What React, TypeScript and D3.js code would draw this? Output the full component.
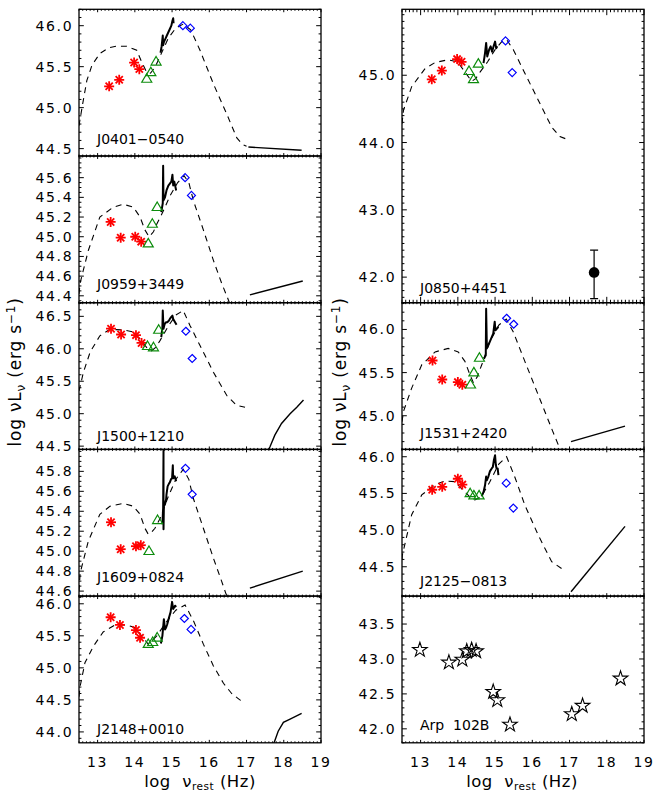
import React from "react";
import * as d3 from "d3";

type P = [number, number];

const X_DOMAIN: [number, number] = [12.5, 19];
const X_TICKS = [13, 14, 15, 16, 17, 18, 19];

// ---- J0401-0540 ----
const j0401Ir: P[] = [[13.31, 45.26], [13.58, 45.34], [13.98, 45.55], [14.12, 45.47]];
const j0401Nir: P[] = [[14.32, 45.35], [14.43, 45.43], [14.57, 45.56]];
const j0401Uv: P[] = [[15.29, 46.0], [15.49, 45.97]];
const j0401Spec: P[] = [[14.69, 45.67], [14.72, 45.75], [14.75, 45.88], [14.76, 45.76], [14.78, 45.8], [14.82, 45.84], [14.86, 45.88], [14.9, 45.92], [14.94, 45.96], [14.98, 46.0], [15.01, 46.06], [15.03, 46.09], [15.04, 46.03]];
const j0401Model: P[] = [[12.5, 44.78], [12.6, 45.05], [12.71, 45.33], [12.85, 45.52], [13.06, 45.66], [13.3, 45.73], [13.51, 45.75], [13.78, 45.75], [14.05, 45.7], [14.18, 45.56], [14.32, 45.43], [14.42, 45.42], [14.55, 45.5], [14.7, 45.65], [14.9, 45.85], [15.1, 45.97], [15.3, 46.02], [15.5, 45.95], [15.75, 45.7], [16.11, 45.29], [16.47, 44.92], [16.74, 44.63], [16.9, 44.55], [17.0, 44.53]];
const j0401Xray: P[] = [[17.05, 44.52], [18.48, 44.48]];

// ---- J0959+3449 ----
const j0959Ir: P[] = [[13.35, 45.15], [13.62, 44.99], [14.01, 45.0], [14.17, 44.95]];
const j0959Nir: P[] = [[14.36, 44.93], [14.47, 45.13], [14.6, 45.3]];
const j0959Uv: P[] = [[15.35, 45.6], [15.52, 45.42]];
const j0959Spec: P[] = [[14.71, 45.25], [14.75, 45.34], [14.76, 45.72], [14.77, 45.37], [14.81, 45.4], [14.85, 45.47], [14.9, 45.52], [14.94, 45.54], [14.98, 45.56], [15.01, 45.63], [15.03, 45.52], [15.06, 45.56], [15.11, 45.47]];
const j0959Model: P[] = [[12.5, 44.42], [12.53, 44.53], [12.75, 44.86], [13.06, 45.2], [13.42, 45.3], [13.69, 45.33], [13.96, 45.3], [14.14, 45.2], [14.27, 45.07], [14.38, 45.0], [14.5, 45.05], [14.59, 45.13], [14.75, 45.25], [14.95, 45.42], [15.15, 45.55], [15.32, 45.62], [15.45, 45.55], [15.57, 45.37], [15.84, 45.07], [16.11, 44.76], [16.33, 44.53], [16.51, 44.36], [16.6, 44.27]];
const j0959Xray: P[] = [[17.09, 44.41], [18.51, 44.55]];

// ---- J1500+1210 ----
const j1500Ir: P[] = [[13.36, 46.31], [13.63, 46.22], [14.03, 46.21], [14.18, 46.09]];
const j1500Nir: P[] = [[14.34, 46.04], [14.5, 46.02], [14.64, 46.29]];
const j1500Uv: P[] = [[15.37, 46.27], [15.54, 45.85]];
const j1500Spec: P[] = [[14.71, 46.18], [14.74, 46.33], [14.75, 46.59], [14.77, 46.31], [14.8, 46.38], [14.84, 46.41], [14.87, 46.41], [14.91, 46.43], [14.94, 46.46], [14.98, 46.49], [15.01, 46.51], [15.03, 46.46], [15.08, 46.41], [15.12, 46.37]];
const j1500Model: P[] = [[12.5, 45.35], [12.62, 45.64], [12.8, 45.95], [13.06, 46.2], [13.33, 46.3], [13.69, 46.29], [13.96, 46.26], [14.14, 46.15], [14.32, 46.02], [14.45, 45.97], [14.56, 46.02], [14.68, 46.13], [14.9, 46.35], [15.1, 46.52], [15.3, 46.59], [15.48, 46.36], [15.75, 46.05], [16.11, 45.64], [16.47, 45.28], [16.73, 45.13], [16.96, 45.1]];
const j1500Xray: P[] = [[17.55, 44.4], [17.63, 44.49], [17.76, 44.67], [17.94, 44.85], [18.17, 45.0], [18.35, 45.1], [18.53, 45.21]];

// ---- J1609+0824 ----
const j1609Ir: P[] = [[13.36, 45.29], [13.62, 45.02], [14.03, 45.05], [14.16, 45.06]];
const j1609Nir: P[] = [[14.38, 45.0], [14.61, 45.31]];
const j1609Uv: P[] = [[15.36, 45.83], [15.54, 45.57]];
const j1609Spec: P[] = [[14.74, 45.27], [14.76, 45.43], [14.77, 46.01], [14.77, 45.22], [14.78, 45.45], [14.81, 45.47], [14.84, 45.52], [14.85, 45.57], [14.88, 45.65], [14.92, 45.68], [14.94, 45.69], [14.97, 45.72], [15.0, 45.73], [15.02, 45.86], [15.03, 45.73], [15.07, 45.75], [15.11, 45.7]];
const j1609Model: P[] = [[12.5, 44.6], [12.53, 44.78], [12.75, 45.1], [13.06, 45.37], [13.33, 45.45], [13.69, 45.48], [13.96, 45.45], [14.14, 45.37], [14.27, 45.23], [14.36, 45.17], [14.45, 45.19], [14.54, 45.23], [14.68, 45.33], [14.9, 45.55], [15.1, 45.72], [15.3, 45.82], [15.45, 45.72], [15.57, 45.53], [15.84, 45.23], [16.11, 44.93], [16.33, 44.7], [16.45, 44.57], [16.6, 44.45]];
const j1609Xray: P[] = [[17.09, 44.63], [18.51, 44.8]];

// ---- J2148+0010 ----
const j2148Ir: P[] = [[13.35, 45.79], [13.6, 45.67], [14.03, 45.59], [14.14, 45.47]];
const j2148Nir: P[] = [[14.36, 45.37], [14.48, 45.4], [14.6, 45.47]];
const j2148Uv: P[] = [[15.33, 45.77], [15.51, 45.6]];
const j2148Spec: P[] = [[14.7, 45.38], [14.74, 45.5], [14.78, 45.76], [14.81, 45.6], [14.84, 45.63], [14.87, 45.68], [14.92, 45.79], [14.96, 45.87], [15.0, 46.03], [15.03, 45.92], [15.08, 45.97], [15.11, 45.95]];
const j2148Model: P[] = [[12.5, 44.55], [12.53, 44.71], [12.66, 45.08], [12.89, 45.34], [13.15, 45.56], [13.47, 45.67], [13.78, 45.67], [14.0, 45.63], [14.18, 45.5], [14.36, 45.37], [14.59, 45.5], [14.85, 45.72], [15.1, 45.9], [15.35, 45.98], [15.57, 45.74], [15.84, 45.37], [16.11, 45.03], [16.38, 44.76], [16.6, 44.6], [16.82, 44.5], [16.93, 44.47]];
const j2148Xray: P[] = [[17.7, 43.75], [17.74, 43.83], [17.85, 44.01], [17.99, 44.15], [18.17, 44.2], [18.48, 44.29]];

// ---- J0850+4451 ----
const j0850Ir: P[] = [[13.3, 44.94], [13.57, 45.07], [13.98, 45.24], [14.1, 45.2]];
const j0850Nir: P[] = [[14.3, 45.06], [14.42, 44.94], [14.55, 45.17]];
const j0850Uv: P[] = [[15.28, 45.51], [15.46, 45.04]];
const j0850Spec: P[] = [[14.69, 45.18], [14.73, 45.33], [14.76, 45.48], [14.79, 45.28], [14.84, 45.38], [14.88, 45.43], [14.92, 45.35], [14.96, 45.43], [15.0, 45.5], [15.03, 45.4], [15.06, 45.43]];
const j0850Model: P[] = [[12.5, 44.28], [12.54, 44.48], [12.76, 44.83], [13.12, 45.1], [13.39, 45.19], [13.74, 45.23], [13.99, 45.2], [14.19, 45.05], [14.37, 44.91], [14.48, 44.95], [14.6, 45.05], [14.8, 45.2], [15.0, 45.38], [15.18, 45.5], [15.31, 45.53], [15.49, 45.38], [15.8, 45.03], [16.16, 44.63], [16.52, 44.23], [16.74, 44.09], [16.97, 44.04]];
const j0850XrayPt: P = [17.66, 42.07];
const j0850XrayErr: [number, number] = [41.68, 42.4];

// ---- J1531+2420 ----
const j1531Ir: P[] = [[13.32, 45.64], [13.58, 45.42], [14.0, 45.39], [14.12, 45.36]];
const j1531Nir: P[] = [[14.34, 45.36], [14.43, 45.5], [14.58, 45.67]];
const j1531Uv: P[] = [[15.31, 46.13], [15.5, 46.06]];
const j1531Spec: P[] = [[14.7, 45.66], [14.75, 45.7], [14.76, 46.24], [14.78, 45.78], [14.82, 45.82], [14.86, 45.86], [14.91, 45.91], [14.95, 45.95], [14.99, 46.09], [15.01, 45.99], [15.05, 46.01], [15.09, 46.03]];
const j1531Model: P[] = [[12.5, 44.93], [12.54, 45.05], [12.76, 45.32], [13.03, 45.59], [13.39, 45.74], [13.74, 45.78], [14.01, 45.74], [14.19, 45.63], [14.33, 45.47], [14.42, 45.38], [14.52, 45.45], [14.65, 45.6], [14.85, 45.85], [15.1, 46.05], [15.3, 46.12], [15.49, 45.97], [15.8, 45.63], [16.16, 45.24], [16.52, 44.85], [16.7, 44.66], [16.8, 44.56]];
const j1531Xray: P[] = [[17.04, 44.7], [18.49, 44.88]];

// ---- J2125-0813 ----
const j2125Ir: P[] = [[13.31, 45.55], [13.58, 45.59], [14.0, 45.7], [14.12, 45.62]];
const j2125Nir: P[] = [[14.33, 45.5], [14.43, 45.47], [14.57, 45.47]];
const j2125Uv: P[] = [[15.3, 45.64], [15.49, 45.3]];
const j2125Spec: P[] = [[14.64, 45.46], [14.69, 45.52], [14.73, 45.61], [14.76, 45.73], [14.78, 45.68], [14.82, 45.73], [14.86, 45.8], [14.91, 45.84], [14.94, 45.86], [14.97, 45.96], [15.0, 46.02], [15.02, 45.89], [15.04, 45.84], [15.07, 45.84], [15.09, 45.75]];
const j2125Model: P[] = [[12.5, 44.6], [12.51, 44.66], [12.76, 45.21], [13.03, 45.48], [13.39, 45.62], [13.66, 45.67], [13.92, 45.66], [14.19, 45.52], [14.37, 45.43], [14.46, 45.41], [14.64, 45.46], [14.85, 45.65], [15.1, 45.9], [15.31, 46.0], [15.54, 45.71], [15.8, 45.34], [16.16, 44.93], [16.52, 44.57], [16.83, 44.46]];
const j2125Xray: P[] = [[17.04, 44.16], [18.49, 45.05]];

// ---- Arp 102B ----
const arpStars: P[] = [[12.98, 43.13], [13.76, 42.95], [14.12, 42.99], [14.24, 43.11], [14.37, 43.13], [14.49, 43.11], [14.95, 42.53], [15.06, 42.41], [15.4, 42.06], [17.06, 42.21], [17.35, 42.33], [18.37, 42.72]];

const PANELS = [
  { name: "J0401\u22120540", col: 0, row: 0, span: 1, yDomain: [44.41, 46.2], yTicks: [44.5, 45.0, 45.5, 46.0], yMinor: 0.1, labelDy: -12, ir: j0401Ir, nir: j0401Nir, uv: j0401Uv, spec: j0401Spec, model: j0401Model, xray: j0401Xray },
  { name: "J0959+3449", col: 0, row: 1, span: 1, yDomain: [44.33, 45.82], yTicks: [44.4, 44.6, 44.8, 45.0, 45.2, 45.4, 45.6], yMinor: 0.05, labelDy: -13.4, ir: j0959Ir, nir: j0959Nir, uv: j0959Uv, spec: j0959Spec, model: j0959Model, xray: j0959Xray },
  { name: "J1500+1210", col: 0, row: 2, span: 1, yDomain: [44.45, 46.71], yTicks: [44.5, 45.0, 45.5, 46.0, 46.5], yMinor: 0.1, labelDy: -8.7, ir: j1500Ir, nir: j1500Nir, uv: j1500Uv, spec: j1500Spec, model: j1500Model, xray: j1500Xray },
  { name: "J1609+0824", col: 0, row: 3, span: 1, yDomain: [44.55, 46.02], yTicks: [44.6, 44.8, 45.0, 45.2, 45.4, 45.6, 45.8], yMinor: 0.05, labelDy: -14.4, ir: j1609Ir, nir: j1609Nir, uv: j1609Uv, spec: j1609Spec, model: j1609Model, xray: j1609Xray },
  { name: "J2148+0010", col: 0, row: 4, span: 1, yDomain: [43.83, 46.12], yTicks: [44.0, 44.5, 45.0, 45.5, 46.0], yMinor: 0.1, labelDy: -8.5, ir: j2148Ir, nir: j2148Nir, uv: j2148Uv, spec: j2148Spec, model: j2148Model, xray: j2148Xray, xLabels: true },
  { name: "J0850+4451", col: 1, row: 0, span: 2, yDomain: [41.62, 45.98], yTicks: [42.0, 43.0, 44.0, 45.0], yMinor: 0.1, labelDy: -9.4, ir: j0850Ir, nir: j0850Nir, uv: j0850Uv, spec: j0850Spec, model: j0850Model, xray: [] as P[], errPt: true },
  { name: "J1531+2420", col: 1, row: 2, span: 1, yDomain: [44.61, 46.31], yTicks: [45.0, 45.5, 46.0], yMinor: 0.1, labelDy: -11.7, ir: j1531Ir, nir: j1531Nir, uv: j1531Uv, spec: j1531Spec, model: j1531Model, xray: j1531Xray },
  { name: "J2125\u22120813", col: 1, row: 3, span: 1, yDomain: [44.1, 46.1], yTicks: [44.5, 45.0, 45.5, 46.0], yMinor: 0.1, labelDy: -10.4, ir: j2125Ir, nir: j2125Nir, uv: j2125Uv, spec: j2125Spec, model: j2125Model, xray: j2125Xray },
  { name: "Arp  102B", col: 1, row: 4, span: 1, yDomain: [41.8, 43.9], yTicks: [42.0, 42.5, 43.0, 43.5], yMinor: 0.1, labelDy: -12.8, ir: [] as P[], nir: [] as P[], uv: [] as P[], spec: [] as P[], model: [] as P[], xray: [] as P[], stars: arpStars, xLabels: true },
];

const FONT = "DejaVu Sans, sans-serif";
const TOP = 9.3;
const ROW_H = 146.7;
const PW = 242;
const COL_X = [79, 402];
const RED = "#ff0000";
const GREEN = "#0c8c0c";
const BLUE = "#0000ff";

const starPath = d3.symbol().type(d3.symbolStar).size(66)() as string;

function Panel({ cfg, idx }: { cfg: any; idx: number }) {
  const x0 = COL_X[cfg.col];
  const top = TOP + cfg.row * ROW_H;
  const h = ROW_H * cfg.span;
  const xs = d3.scaleLinear().domain(X_DOMAIN).range([x0, x0 + PW]);
  const ys = d3.scaleLinear().domain(cfg.yDomain).range([top + h, top]);
  const line = d3.line<P>().x((d) => xs(d[0])).y((d) => ys(d[1]));
  const clipId = `clip${idx}`;
  const yMaj = 0.02 * PW;
  const xMaj = 0.02 * h;

  const xMinor: number[] = [];
  for (let v = Math.ceil(X_DOMAIN[0] * 10); v <= X_DOMAIN[1] * 10 + 1e-6; v++) xMinor.push(v / 10);
  const yMinor: number[] = [];
  const st = cfg.yMinor;
  for (let k = Math.ceil(cfg.yDomain[0] / st - 1e-6); k * st <= cfg.yDomain[1] + 1e-9; k++) yMinor.push(k * st);
  const isMajorY = (v: number) => cfg.yTicks.some((t: number) => Math.abs(t - v) < 1e-6);
  const isMajorX = (v: number) => Math.abs(v - Math.round(v)) < 1e-6;

  return (
    <g>
      <defs>
        <clipPath id={clipId}>
          <rect x={x0} y={top} width={PW} height={h} />
        </clipPath>
      </defs>
      <g stroke="#000" strokeWidth={1}>
        {xMinor.map((v, i) => {
          const L = isMajorX(v) ? xMaj : xMaj / 2;
          const px = xs(v);
          return (
            <g key={"xt" + i}>
              <line x1={px} x2={px} y1={top + h} y2={top + h - L} />
              <line x1={px} x2={px} y1={top} y2={top + L} />
            </g>
          );
        })}
        {yMinor.map((v, i) => {
          const L = isMajorY(v) ? yMaj : yMaj / 2;
          const py = ys(v);
          return (
            <g key={"yt" + i}>
              <line x1={x0} x2={x0 + L} y1={py} y2={py} />
              <line x1={x0 + PW} x2={x0 + PW - L} y1={py} y2={py} />
            </g>
          );
        })}
      </g>
      <rect x={x0} y={top} width={PW} height={h} fill="none" stroke="#000" strokeWidth={1.3} />
      {cfg.yTicks.map((t: number) => (
        <text key={"yl" + t} x={x0 - 5.8} y={ys(t)} dy="0.36em" textAnchor="end" fontFamily={FONT} fontSize={14} letterSpacing={1.6} fill="#000">
          {d3.format(".1f")(t)}
        </text>
      ))}
      {cfg.xLabels &&
        X_TICKS.map((t) => (
          <text key={"xl" + t} x={xs(t)} y={767} textAnchor="middle" fontFamily={FONT} fontSize={14} letterSpacing={1.6} fill="#000">
            {t}
          </text>
        ))}
      <g clipPath={`url(#${clipId})`}>
        {cfg.model.length > 0 && <path d={line(cfg.model) as string} fill="none" stroke="#000" strokeWidth={1.1} strokeDasharray="6 5" />}
        {cfg.xray.length > 0 && <path d={line(cfg.xray) as string} fill="none" stroke="#000" strokeWidth={1.4} />}
        {cfg.spec.length > 0 && <path d={line(cfg.spec) as string} fill="none" stroke="#000" strokeWidth={2} strokeLinejoin="round" />}
        {cfg.ir.map((d: P, i: number) => {
          const cx = xs(d[0]);
          const cy = ys(d[1]);
          const r = 5;
          const q = r * 0.72;
          return (
            <g key={"ir" + i} stroke={RED} strokeWidth={1.8}>
              <line x1={cx - r} x2={cx + r} y1={cy} y2={cy} />
              <line x1={cx} x2={cx} y1={cy - r} y2={cy + r} />
              <line x1={cx - q} x2={cx + q} y1={cy - q} y2={cy + q} />
              <line x1={cx - q} x2={cx + q} y1={cy + q} y2={cy - q} />
            </g>
          );
        })}
        {cfg.nir.map((d: P, i: number) => {
          const cx = xs(d[0]);
          const cy = ys(d[1]);
          return <path key={"nir" + i} d={`M${cx},${cy - 5.2}L${cx + 5},${cy + 3.3}L${cx - 5},${cy + 3.3}Z`} fill="none" stroke={GREEN} strokeWidth={1.2} />;
        })}
        {cfg.uv.map((d: P, i: number) => {
          const cx = xs(d[0]);
          const cy = ys(d[1]);
          const r = 4;
          return <path key={"uv" + i} d={`M${cx},${cy - r}L${cx + r},${cy}L${cx},${cy + r}L${cx - r},${cy}Z`} fill="none" stroke={BLUE} strokeWidth={1.2} />;
        })}
        {cfg.stars &&
          cfg.stars.map((d: P, i: number) => (
            <path key={"st" + i} d={starPath} transform={`translate(${xs(d[0])},${ys(d[1])})`} fill="none" stroke="#000" strokeWidth={1.1} />
          ))}
        {cfg.errPt && (
          <g stroke="#000" strokeWidth={1.2}>
            <line x1={xs(j0850XrayPt[0])} x2={xs(j0850XrayPt[0])} y1={ys(j0850XrayErr[0])} y2={ys(j0850XrayErr[1])} />
            <line x1={xs(j0850XrayPt[0]) - 4} x2={xs(j0850XrayPt[0]) + 4} y1={ys(j0850XrayErr[0])} y2={ys(j0850XrayErr[0])} />
            <line x1={xs(j0850XrayPt[0]) - 4} x2={xs(j0850XrayPt[0]) + 4} y1={ys(j0850XrayErr[1])} y2={ys(j0850XrayErr[1])} />
            <circle cx={xs(j0850XrayPt[0])} cy={ys(j0850XrayPt[1])} r={5.3} fill="#000" stroke="none" />
          </g>
        )}
      </g>
      <text x={x0 + 18} y={top + h + cfg.labelDy} fontFamily={FONT} fontSize={14} fill="#000" style={{ whiteSpace: "pre" }}>
        {cfg.name}
      </text>
    </g>
  );
}

function YTitle({ x }: { x: number }) {
  return (
    <text transform={`translate(${x},372) rotate(-90)`} textAnchor="middle" fontFamily={FONT} fontSize={17} letterSpacing={0.8} fill="#000">
      log <tspan>ν</tspan>L<tspan dy={4} fontSize={12}>ν</tspan>
      <tspan dy={-4}> (erg s</tspan>
      <tspan dy={-6} fontSize={12}>−1</tspan>
      <tspan dy={6}>)</tspan>
    </text>
  );
}

function XTitle({ x }: { x: number }) {
  return (
    <text x={x} y={787} textAnchor="middle" fontFamily={FONT} fontSize={16.5} letterSpacing={0.5} fill="#000" style={{ whiteSpace: "pre" }}>
      log  ν<tspan dy={3} fontSize={10.5}>rest</tspan>
      <tspan dy={-3}> (Hz)</tspan>
    </text>
  );
}

export default function App() {
  return (
    <svg width={654} height={796} style={{ position: "absolute", left: 0, top: 0, background: "#fff" }}>
      <rect x={0} y={0} width={654} height={796} fill="#fff" />
      {PANELS.map((p, i) => (
        <Panel key={i} cfg={p} idx={i} />
      ))}
      <YTitle x={21} />
      <YTitle x={346} />
      <XTitle x={200} />
      <XTitle x={522} />
    </svg>
  );
}
